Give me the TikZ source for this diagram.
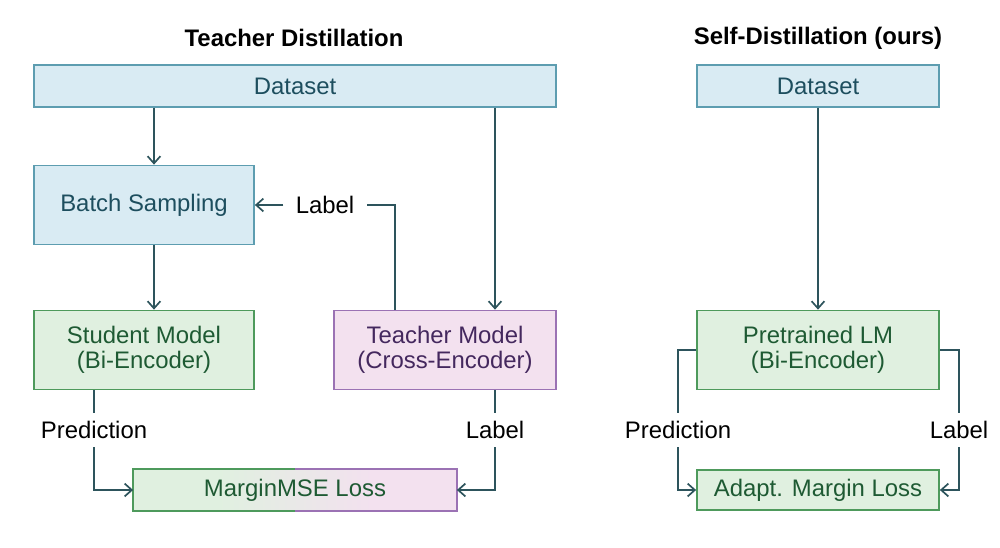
\documentclass[tikz,border=0pt]{standalone}
\usepackage{fontspec}
\setmainfont{Liberation Sans}
\usepackage{xcolor}
\usepackage{tikz}
\usetikzlibrary{positioning,calc,arrows.meta}
\definecolor{distbluefill}{RGB}{217,235,243}
\definecolor{distblueline}{RGB}{93,157,176}
\definecolor{distbluetext}{RGB}{29,78,94}
\definecolor{distgreenfill}{RGB}{224,240,224}
\definecolor{distgreenline}{RGB}{78,154,92}
\definecolor{distgreentext}{RGB}{30,90,51}
\definecolor{distpurplefill}{RGB}{243,225,239}
\definecolor{distpurpleline}{RGB}{155,114,180}
\definecolor{distpurpletext}{RGB}{68,40,94}
\definecolor{distarrow}{RGB}{45,84,92}
\pgfdeclarehorizontalshading{lossshade}{100bp}{color(0bp)=(distgreenfill); color(38bp)=(distgreenfill); color(62bp)=(distpurplefill); color(100bp)=(distpurplefill)}
\tikzset{
    dist box/.style={
        rectangle,
        draw,
        line width=1.2pt,
        inner sep=0pt,
        align=center,
        font=\fontsize{17}{18}\selectfont,
    },
    data box/.style={dist box, fill=distbluefill, draw=distblueline, text=distbluetext},
    student box/.style={dist box, fill=distgreenfill, draw=distgreenline, text=distgreentext},
    teacher box/.style={dist box, fill=distpurplefill, draw=distpurpleline, text=distpurpletext},
    dist title/.style={font=\fontsize{17}{18}\selectfont\bfseries, text=black},
    flow label/.style={font=\fontsize{17}{18}\selectfont, text=black, inner xsep=0.3cm, inner ysep=0.21cm},
    link/.style={line width=1.2pt, draw=distarrow},
    flow/.style={link, -{Straight Barb[length=0.18cm, width=0.32cm]}},
}

\begin{document}
\begin{tikzpicture}[x=0.025cm, y=-0.025cm]
    \useasboundingbox (0,0) rectangle (1000,547);

    % Teacher distillation
    \node[dist title] (tdtitle) at (294,38) {Teacher Distillation};
    \node[data box, minimum width=13.05cm, minimum height=1.05cm] (data) at (295,86) {Dataset};
    \node[data box, minimum width=5.5cm, minimum height=1.975cm] (batch) at (144,205) {Batch Sampling};
    \node[student box, minimum width=5.5cm, minimum height=1.975cm] (student) at (144,350) {Student Model\\(Bi-Encoder)};
    \node[teacher box, minimum width=5.55cm, minimum height=1.975cm] (teacher) at (445,350) {Teacher Model\\(Cross-Encoder)};
    \node[dist box, draw=none, shading=lossshade, text=distgreentext, minimum width=8.05cm, minimum height=1cm] (margin) at (295,490) {MarginMSE Loss};
    \draw[line width=1.2pt, distgreenline] (margin.north) -| (margin.south west) -- (margin.south);
    \draw[line width=1.2pt, distpurpleline] (margin.north) -| (margin.south east) -- (margin.south);

    \coordinate (leftcol) at (154,0);
    \coordinate (backcol) at (395,0);
    \node[flow label] (backlabel) at (325,205) {Label};
    \node[flow label] (pred) at (94,430) {Prediction};
    \node[flow label] (tlabel) at (495,430) {Label};

    \draw[flow] (data.south -| leftcol) -- (batch.north -| leftcol);
    \draw[flow] (batch.south -| leftcol) -- (student.north -| leftcol);
    \draw[flow] (data.south -| tlabel) -- (teacher.north -| tlabel);
    \draw[link] (teacher.north -| backcol) |- (backlabel);
    \draw[flow] (backlabel) -- (batch.east |- backlabel);
    \draw[link] (student.south -| pred) -- (pred);
    \draw[flow] (pred) |- (margin.west);
    \draw[link] (teacher.south -| tlabel) -- (tlabel);
    \draw[flow] (tlabel) |- (margin.east);

    % Self-distillation
    \node[dist title] (sdtitle) at (818,38) {Self-Distillation (ours)};
    \node[data box, minimum width=6.05cm, minimum height=1.05cm] (sdata) at (818,86) {Dataset};
    \node[student box, minimum width=6.05cm, minimum height=1.975cm] (plm) at (818,350) {Pretrained LM\\(Bi-Encoder)};
    \node[student box, minimum width=6.05cm, minimum height=1cm] (adapt) at (818,490) {Adapt. Margin Loss};
    \node[flow label] (spred) at (678,430) {Prediction};
    \node[flow label] (slabel) at (959,430) {Label};

    \draw[flow] (sdata) -- (plm);
    \draw[link] (plm.west) -| (spred);
    \draw[flow] (spred) |- (adapt.west);
    \draw[link] (plm.east) -| (slabel);
    \draw[flow] (slabel) |- (adapt.east);
\end{tikzpicture}
\end{document}
